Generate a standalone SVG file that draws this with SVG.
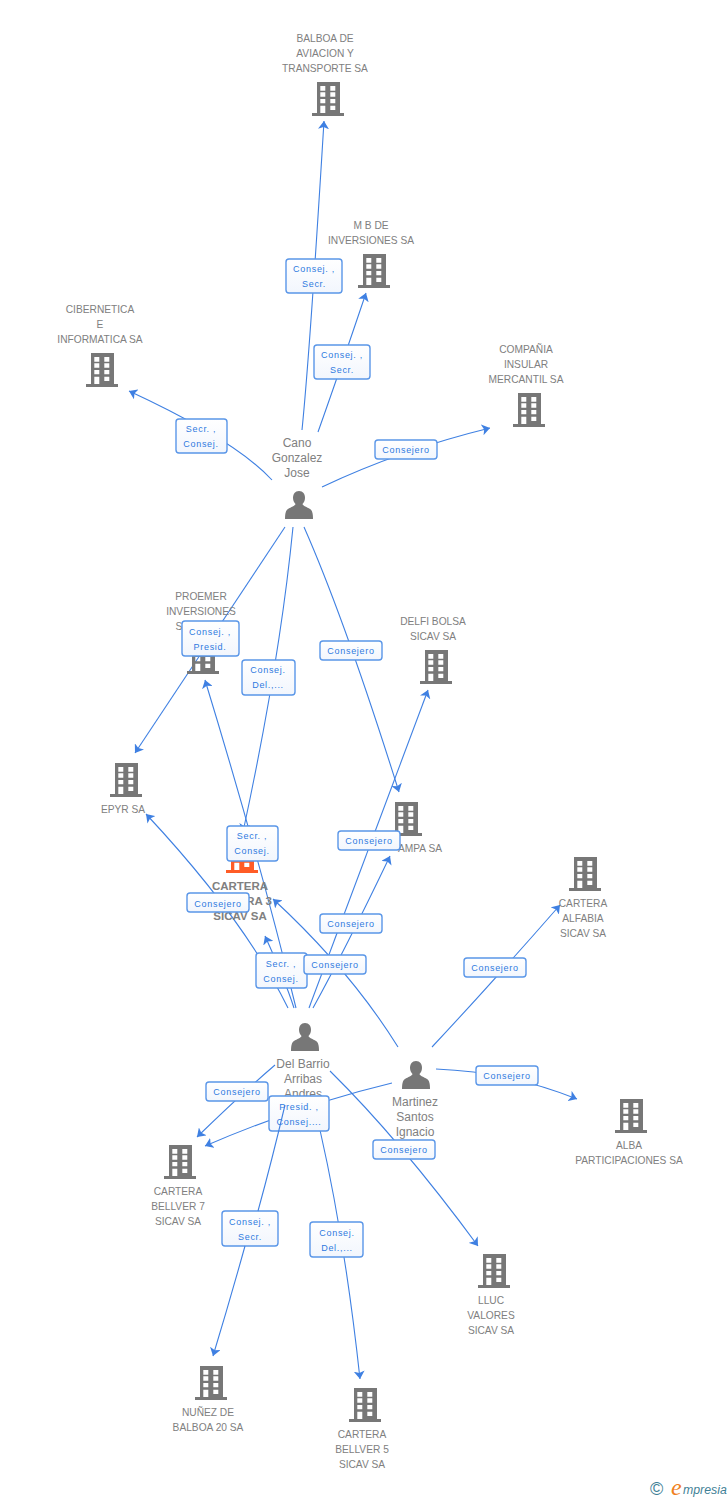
<svg xmlns="http://www.w3.org/2000/svg" width="728" height="1500" viewBox="0 0 728 1500">
<style>
text{font-family:"Liberation Sans",Arial,sans-serif}
.n{font-size:10.2px;fill:#808080;text-anchor:middle}
.p{font-size:12px;fill:#808080;text-anchor:middle}
.o{font-size:11.5px;font-weight:bold;fill:#808080;text-anchor:middle}
.c{fill:none;stroke:#3f80e2;stroke-width:1.1;marker-end:url(#a)}
.t{fill:none;stroke:#3f80e2;stroke-width:1.1}
.b{fill:url(#g);stroke:#5a96e8;stroke-width:1.4}
.l{font-size:9px;fill:#2f7ae0;text-anchor:middle;letter-spacing:.7px}
</style>
<defs>
<linearGradient id="g" x1="0" y1="0" x2="0" y2="1"><stop offset="0" stop-color="#fff"/><stop offset="1" stop-color="#f2f6fd"/></linearGradient>
<marker id="a" viewBox="0 0 8 11" refX="8" refY="5.500" markerWidth="8" markerHeight="11" markerUnits="userSpaceOnUse" orient="auto"><path d="M0 0L8 5.500L0 11L2 5.500Z" fill="#3f80e2"/></marker>
<g id="bld">
<path fill-rule="evenodd" d="M-11-17H12V14H16V17H-16V14H-11ZM-7.700-13v4.700h5v-4.700ZM2.300-13v4.700h5v-4.700ZM-7.700-6.700v4.400h5v-4.400ZM2.300-6.700v4.400h5v-4.400ZM-7.700 0v4.300h5V0ZM2.300 0v4.300h5V0ZM-7.700 6.700V14h5V6.700ZM2.300 6.700V11h5V6.700Z"/>
</g>
<g id="per"><path d="M0-14C4-14 6-11 6-7C6-4 4.500-2 3.500-1C4 1 8 2 11 4C13 5 14 8 14 14H-14C-14 8-13 5-11 4C-8 2-4 1-3.500-1C-4.500-2-6-4-6-7C-6-11-4-14 0-14Z"/></g>
</defs>
<rect width="728" height="1500" fill="#fff"/>
<g id="connectors">
<path class="c" d="M302 430Q310 350 324 121"/>
<path class="c" d="M318 432Q340 370 366 293"/>
<path class="c" d="M272 480Q235 440 129 391"/>
<path class="c" d="M322 487Q400 450 490 428"/>
<path class="c" d="M285 527Q220 625 135 753"/>
<path class="c" d="M293 527Q280 660 243 832"/>
<path class="c" d="M304 527Q345 620 399 792"/>
<path class="c" d="M296 1008Q260 860 205 680"/>
<path class="c" d="M288 1008Q245 920 146 814"/>
<path class="c" d="M294 1008Q285 980 265 936"/>
<path class="c" d="M398 1047Q350 970 273 899"/>
<path class="c" d="M309 1008Q360 870 428 690"/>
<path class="c" d="M313 1008Q345 950 390 856"/>
<path class="c" d="M275 1065Q240 1095 197 1137"/>
<path class="c" d="M392 1083Q300 1105 205 1146"/>
<path class="c" d="M320 1130Q345 1240 360 1379"/>
<path class="c" d="M330 1071Q400 1140 478 1246"/>
<path class="c" d="M432 1047Q490 985 560 905"/>
<path class="c" d="M436 1069Q510 1072 577 1099"/>
</g>
<g id="n-balboa" fill="#777"><use href="#bld" x="328" y="99"/><text class="n" x="325" y="42">BALBOA DE</text><text class="n" x="325" y="57">AVIACION Y</text><text class="n" x="325" y="72">TRANSPORTE SA</text></g>
<g id="n-mb" fill="#777"><use href="#bld" x="374" y="271"/><text class="n" x="371" y="229">M B DE</text><text class="n" x="371" y="244">INVERSIONES SA</text></g>
<g id="n-ciber" fill="#777"><use href="#bld" x="102" y="370"/><text class="n" x="100" y="313">CIBERNETICA</text><text class="n" x="100" y="328">E</text><text class="n" x="100" y="343">INFORMATICA SA</text></g>
<g id="n-insular" fill="#777"><use href="#bld" x="529" y="410"/><text class="n" x="526" y="353">COMPAÑIA</text><text class="n" x="526" y="368">INSULAR</text><text class="n" x="526" y="383">MERCANTIL SA</text></g>
<g id="n-proemer" fill="#777"><use href="#bld" x="203" y="657"/><text class="n" x="201" y="600">PROEMER</text><text class="n" x="201" y="615">INVERSIONES</text><text class="n" x="179" y="630">S</text></g>
<g id="n-delfi" fill="#777"><use href="#bld" x="436" y="667"/><text class="n" x="433" y="625">DELFI BOLSA</text><text class="n" x="433" y="640">SICAV SA</text></g>
<g id="n-epyr" fill="#777"><use href="#bld" x="126" y="780"/><text class="n" x="123" y="813">EPYR SA</text></g>
<g id="n-ampa" fill="#777"><use href="#bld" x="406" y="819"/><text class="n" x="442" y="852" style="text-anchor:end">AMPA SA</text></g>
<g id="n-cartera3" fill="#ff5c26"><use href="#bld" x="242" y="856"/><text class="o" x="240" y="890">CARTERA</text><text class="o" x="272" y="905" style="text-anchor:end">RA 3</text><text class="o" x="240" y="920">SICAV SA</text></g>
<g id="n-alfabia" fill="#777"><use href="#bld" x="585" y="874"/><text class="n" x="583" y="907">CARTERA</text><text class="n" x="583" y="922">ALFABIA</text><text class="n" x="583" y="937">SICAV SA</text></g>
<g id="n-alba" fill="#777"><use href="#bld" x="631" y="1116"/><text class="n" x="629" y="1149">ALBA</text><text class="n" x="629" y="1164">PARTICIPACIONES SA</text></g>
<g id="n-bellver7" fill="#777"><use href="#bld" x="180" y="1162"/><text class="n" x="178" y="1195">CARTERA</text><text class="n" x="178" y="1210">BELLVER 7</text><text class="n" x="178" y="1225">SICAV SA</text></g>
<g id="n-lluc" fill="#777"><use href="#bld" x="494" y="1271"/><text class="n" x="491" y="1304">LLUC</text><text class="n" x="491" y="1319">VALORES</text><text class="n" x="491" y="1334">SICAV SA</text></g>
<g id="n-nunez" fill="#777"><use href="#bld" x="211" y="1383"/><text class="n" x="208" y="1416">NUÑEZ DE</text><text class="n" x="208" y="1431">BALBOA 20 SA</text></g>
<g id="n-bellver5" fill="#777"><use href="#bld" x="365" y="1405"/><text class="n" x="362" y="1438">CARTERA</text><text class="n" x="362" y="1453">BELLVER 5</text><text class="n" x="362" y="1468">SICAV SA</text></g>
<g id="n-cano" fill="#777"><use href="#per" x="299" y="505"/><text class="p" x="297" y="447">Cano</text><text class="p" x="297" y="462">Gonzalez</text><text class="p" x="297" y="477">Jose</text></g>
<g id="n-delbarrio" fill="#777"><use href="#per" x="305" y="1037"/><text class="p" x="303" y="1068">Del Barrio</text><text class="p" x="303" y="1083">Arribas</text><text class="p" x="303" y="1098">Andres</text></g>
<g id="n-martinez" fill="#777"><use href="#per" x="416" y="1075"/><text class="p" x="415" y="1106">Martinez</text><text class="p" x="415" y="1121">Santos</text><text class="p" x="415" y="1136">Ignacio</text></g>
<g id="labels">
<rect class="b" x="286" y="259" width="56" height="34" rx="3"/><text class="l" x="314" y="272">Consej. ,</text><text class="l" x="314" y="287">Secr.</text>
<rect class="b" x="314" y="345" width="56" height="34" rx="3"/><text class="l" x="342" y="358">Consej. ,</text><text class="l" x="342" y="373">Secr.</text>
<rect class="b" x="176" y="419" width="51" height="34" rx="3"/><text class="l" x="201" y="432">Secr. ,</text><text class="l" x="201" y="447">Consej.</text>
<rect class="b" x="375" y="440" width="62" height="19" rx="3"/><text class="l" x="406" y="453">Consejero</text>
<rect class="b" x="182" y="621" width="57" height="35" rx="3"/><text class="l" x="210" y="635">Consej. ,</text><text class="l" x="210" y="650">Presid.</text>
<rect class="b" x="242" y="660" width="53" height="35" rx="3"/><text class="l" x="268" y="673">Consej.</text><text class="l" x="268" y="688">Del.,...</text>
<rect class="b" x="320" y="641" width="62" height="19" rx="3"/><text class="l" x="351" y="654">Consejero</text>
<rect class="b" x="227" y="826" width="51" height="35" rx="3"/><text class="l" x="252" y="839">Secr. ,</text><text class="l" x="252" y="854">Consej.</text>
<rect class="b" x="338" y="831" width="62" height="19" rx="3"/><text class="l" x="369" y="844">Consejero</text>
<rect class="b" x="187" y="893" width="62" height="19" rx="3"/><text class="l" x="218" y="907">Consejero</text>
<rect class="b" x="320" y="914" width="62" height="19" rx="3"/><text class="l" x="351" y="927">Consejero</text>
<rect class="b" x="256" y="953" width="51" height="35" rx="3"/><text class="l" x="281" y="967">Secr. ,</text><text class="l" x="281" y="982">Consej.</text>
<rect class="b" x="304" y="955" width="62" height="19" rx="3"/><text class="l" x="335" y="968">Consejero</text>
<rect class="b" x="464" y="958" width="62" height="19" rx="3"/><text class="l" x="495" y="971">Consejero</text>
<rect class="b" x="476" y="1066" width="62" height="19" rx="3"/><text class="l" x="507" y="1079">Consejero</text>
<rect class="b" x="206" y="1082" width="62" height="19" rx="3"/><text class="l" x="237" y="1095">Consejero</text>
<rect class="b" x="269" y="1096" width="60" height="35" rx="3"/><text class="l" x="299" y="1110">Presid. ,</text><text class="l" x="299" y="1125">Consej....</text>
<rect class="b" x="373" y="1140" width="62" height="19" rx="3"/><text class="l" x="404" y="1153">Consejero</text>
<rect class="b" x="222" y="1211" width="56" height="35" rx="3"/><text class="l" x="250" y="1225">Consej. ,</text><text class="l" x="250" y="1240">Secr.</text>
<rect class="b" x="310" y="1222" width="53" height="35" rx="3"/><text class="l" x="337" y="1236">Consej.</text><text class="l" x="337" y="1251">Del.,...</text>
</g>
<g id="connectors-top">
<path class="t" d="M285 1105Q272 1160 258 1211"/>
<path class="c" d="M245 1246Q230 1300 213 1356"/>
</g>
<g id="logo">
<text x="650" y="1495" font-size="18" fill="#3f7f96">©</text>
<text x="671" y="1495" font-size="24" font-style="italic" fill="#f08020" style="font-family:'Liberation Serif',serif">e</text>
<text x="683" y="1494" font-size="12.300" font-style="italic" fill="#3f7f96">mpresia</text>
</g>
</svg>
